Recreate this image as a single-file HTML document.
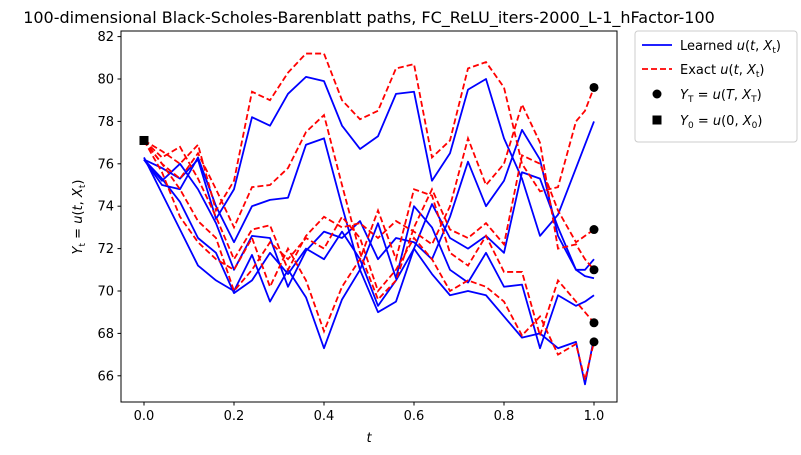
<!DOCTYPE html>
<html><head><meta charset="utf-8"><style>
body{margin:0;background:#fff;}
svg{display:block;font-family:"DejaVu Sans","Liberation Sans",sans-serif;}
</style></head><body>
<svg id="chart" width="801" height="455" viewBox="0 0 801 455">
<text x="369" y="23" text-anchor="middle" font-size="16">100-dimensional Black-Scholes-Barenblatt paths, FC_ReLU_iters-2000_L-1_hFactor-100</text>
<g id="plot"></g>
<g id="axes"></g>
<rect x="121" y="31" width="496" height="371" fill="none" stroke="#000" stroke-width="1"/>
<text x="369" y="442" text-anchor="middle" font-size="13" font-style="italic">t</text>
<text transform="translate(82,217) rotate(-90)" text-anchor="middle" font-size="13"><tspan font-style="italic">Y</tspan><tspan font-size="9" dy="3">t</tspan><tspan dy="-3"> = </tspan><tspan font-style="italic">u</tspan>(<tspan font-style="italic">t</tspan>, <tspan font-style="italic">X</tspan><tspan font-size="9" dy="3">t</tspan><tspan dy="-3">)</tspan></text>
<g>
<rect x="635" y="31" width="162" height="111" fill="#fff" stroke="#ccc" rx="3"/>
<line x1="642" y1="45" x2="672" y2="45" stroke="#0000ff" stroke-width="1.8"/>
<text x="680" y="50" font-size="13">Learned <tspan font-style="italic">u</tspan>(<tspan font-style="italic">t</tspan>, <tspan font-style="italic">X</tspan><tspan font-size="9" dy="3">t</tspan><tspan dy="-3">)</tspan></text>
<line x1="642" y1="69" x2="672" y2="69" stroke="#ff0000" stroke-width="1.8" stroke-dasharray="6,3"/>
<text x="680" y="74" font-size="13">Exact <tspan font-style="italic">u</tspan>(<tspan font-style="italic">t</tspan>, <tspan font-style="italic">X</tspan><tspan font-size="9" dy="3">t</tspan><tspan dy="-3">)</tspan></text>
<circle cx="657" cy="94" r="4.5" fill="#000"/>
<text x="680" y="99" font-size="13"><tspan font-style="italic">Y</tspan><tspan font-size="9" dy="3">T</tspan><tspan dy="-3"> = </tspan><tspan font-style="italic">u</tspan>(<tspan font-style="italic">T</tspan>, <tspan font-style="italic">X</tspan><tspan font-size="9" dy="3">T</tspan><tspan dy="-3">)</tspan></text>
<rect x="652.5" y="115.5" width="9" height="9" fill="#000"/>
<text x="680" y="125" font-size="13"><tspan font-style="italic">Y</tspan><tspan font-size="9" dy="3">0</tspan><tspan dy="-3"> = </tspan><tspan font-style="italic">u</tspan>(0, <tspan font-style="italic">X</tspan><tspan font-size="9" dy="3">0</tspan><tspan dy="-3">)</tspan></text>
</g>
</svg>
<script>
const times = [0,0.04,0.08,0.12,0.16,0.2,0.24,0.28,0.32,0.36,0.4,0.44,0.48,0.52,0.56,0.6,0.64,0.68,0.72,0.76,0.8,0.84,0.88,0.92,0.96,0.98,1.0];
const exactA = [77.1,76.6,76.0,76.9,73.8,75.2,79.4,79.0,80.3,81.2,81.2,79.0,78.1,78.5,80.5,80.7,76.3,77.1,80.5,80.8,79.6,76.0,74.7,74.9,78.0,78.5,79.6];
const learnedA = [76.2,75.8,75.3,76.2,73.4,74.8,78.2,77.8,79.3,80.1,79.9,77.8,76.7,77.3,79.3,79.4,75.2,76.5,79.5,80.0,77.2,75.3,72.6,73.6,75.8,76.9,78.0];
const exactB = [77.1,76.0,75.3,76.5,74.8,73.0,74.9,75.0,75.8,77.5,78.3,75.0,71.8,69.6,70.5,73.0,74.8,72.9,72.5,73.2,72.2,76.4,76.0,73.8,72.3,72.6,72.9];
const learnedB = [76.2,75.0,74.8,76.3,74.0,72.3,74.0,74.3,74.4,76.9,77.2,74.0,71.0,69.0,69.5,72.0,74.1,72.5,72.0,72.6,71.8,75.6,75.3,73.0,71.0,71.0,71.5];
const exactC = [77.1,76.3,76.8,75.3,73.5,71.5,72.9,73.1,71.0,72.6,73.5,73.0,73.2,72.5,73.3,72.8,72.2,74.0,77.2,75.0,76.0,78.8,77.0,72.0,72.2,71.5,71.0];
const learnedC = [76.2,75.2,76.0,74.8,73.2,71.0,72.6,72.5,70.2,71.9,72.8,72.5,73.3,71.5,72.5,72.3,71.5,73.5,76.1,74.0,75.2,77.6,76.2,72.6,71.0,70.7,70.6];
const exactD = [77.1,75.6,73.5,72.3,71.5,71.0,72.5,70.2,72.0,70.5,68.1,70.2,71.5,73.8,71.5,74.8,74.5,71.8,71.2,72.6,70.9,70.9,67.9,70.5,69.5,69.0,68.5];
const learnedD = [76.3,74.6,72.9,71.2,70.5,70.0,71.7,69.5,71.0,69.7,67.3,69.6,71.0,73.2,70.6,74.0,73.0,71.0,70.4,71.8,70.2,70.3,67.3,69.8,69.3,69.5,69.8];
const exactE = [77.1,76.0,74.8,73.3,72.5,70.0,71.0,72.3,71.5,72.5,72.0,73.5,72.5,70.0,71.0,72.5,71.5,70.0,70.5,70.2,69.5,67.9,68.8,67.0,67.5,65.8,67.6];
const learnedE = [76.2,75.3,74.2,72.5,71.8,69.9,70.5,71.8,70.8,72.0,71.5,72.8,71.5,69.3,70.5,72.0,70.8,69.8,70.0,69.8,68.8,67.8,68.0,67.3,67.6,65.6,67.8];
const terminalValues = [79.6,72.9,71.0,68.5,67.6];
const initialValue = 77.1;
const xTicks = [0.0,0.2,0.4,0.6,0.8,1.0];
const xTickLabels = ["0.0","0.2","0.4","0.6","0.8","1.0"];
const yTicks = [66,68,70,72,74,76,78,80,82];
const yTickLabels = ["66","68","70","72","74","76","78","80","82"];

const NS='http://www.w3.org/2000/svg';
function xs(t){return 144+450*t;}
function ys(v){return 36.6+(82-v)*21.2;}
const plot=document.getElementById('plot');
const axes=document.getElementById('axes');
function mk(tag,attrs,parent){const e=document.createElementNS(NS,tag);for(const k in attrs)e.setAttribute(k,attrs[k]);parent.appendChild(e);return e;}

const learnedSeries=[learnedA,learnedB,learnedC,learnedD,learnedE];
const exactSeries=[exactA,exactB,exactC,exactD,exactE];
learnedSeries.forEach((s,i)=>{
  const p=mk('polyline',{points:s.map((v,k)=>xs(times[k])+','+ys(v)).join(' '),fill:'none',stroke:'#0000ff','stroke-width':1.8,'stroke-linejoin':'round'},plot);
  
  
});
exactSeries.forEach((s,i)=>{
  const p=mk('polyline',{points:s.map((v,k)=>xs(times[k])+','+ys(v)).join(' '),fill:'none',stroke:'#ff0000','stroke-width':1.8,'stroke-dasharray':'6,3'},plot);
  
  
});
terminalValues.forEach((v,i)=>{
  const c=mk('circle',{cx:xs(1),cy:ys(v),r:4.5,fill:'#000'},plot);
  
  
});
const sq=mk('rect',{x:xs(0)-4.5,y:ys(initialValue)-4.5,width:9,height:9,fill:'#000'},plot);



xTicks.forEach((t,i)=>{
  const l=mk('line',{x1:xs(t),x2:xs(t),y1:402,y2:405.5,stroke:'#000'},axes);
  
  
  const tx=mk('text',{x:xs(t),y:420,'text-anchor':'middle','font-size':13},axes);
  tx.textContent=xTickLabels[i];
  
  
});
yTicks.forEach((v,i)=>{
  const l=mk('line',{x1:117.5,x2:121,y1:ys(v),y2:ys(v),stroke:'#000'},axes);
  
  
  const tx=mk('text',{x:114,y:ys(v)+4.5,'text-anchor':'end','font-size':13},axes);
  tx.textContent=yTickLabels[i];
  
  
});
</script>
</body></html>
